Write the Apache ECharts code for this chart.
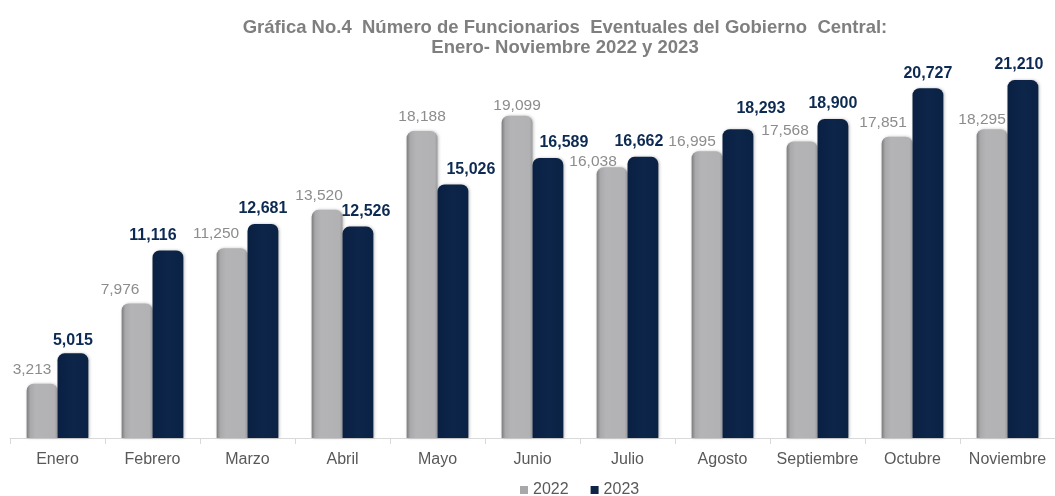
<!DOCTYPE html>
<html lang="es">
<head>
  <meta charset="UTF-8">
  <title>Gráfica No.4</title>
  <style>
    html,body{margin:0;padding:0;background:#fff;}
    #main{width:1055px;height:496px;}
  </style>
</head>
<body>
  <div id="main"></div>
  <script src="https://cdn.jsdelivr.net/npm/echarts@6/dist/echarts.min.js"></script>
  <script>
    const meses=['Enero','Febrero','Marzo','Abril','Mayo','Junio','Julio','Agosto','Septiembre','Octubre','Noviembre'];
    const datos2022=[3213,7976,11250,13520,18188,19099,16038,16995,17568,17851,18295];
    const datos2023=[5015,11116,12681,12526,15026,16589,16662,18293,18900,20727,21210];

    // ajuste de las etiquetas como en el original [dx, dy]
    const ajusteGris=[[-10,0],[-17,0],[-16,0],[-8,0],[0,0],[0,4],[-19,8],[-15,5],[-17,3],[-14,0],[-10,4]];
    const ajusteAzul=[[0,2],[-15,0],[0,0],[8,0],[18,0],[16,0],[-4,0],[23,-6],[0,0],[0,0],[-4,0]];

    const chart=echarts.init(document.querySelector('#main'));
    const fuente='"Liberation Sans", Arial, sans-serif';
    const fmt=p=>p.value.toLocaleString('en-US');

    const gris={
      type:'linear',x:0,y:0,x2:1,y2:0,
      colorStops:[
        {offset:0,color:'#7c7c7e'},
        {offset:0.12,color:'#a9a9ab'},
        {offset:0.3,color:'#b4b4b6'},
        {offset:0.9,color:'#b2b2b4'},
        {offset:1,color:'#9d9d9f'}
      ]
    };
    const azul={
      type:'linear',x:0,y:0,x2:1,y2:0,
      colorStops:[
        {offset:0,color:'#0a2043'},
        {offset:0.5,color:'#0c2549'},
        {offset:1,color:'#0a2244'}
      ]
    };

    const option={
      textStyle:{fontFamily:fuente},
      title:{
        text:'Gráfica No.4  Número de Funcionarios  Eventuales del Gobierno  Central:\nEnero- Noviembre 2022 y 2023',
        left:560,
        textAlign:'center',
        top:13,
        textStyle:{fontSize:18.5,fontWeight:'bold',color:'#7f7f7f',fontFamily:fuente,lineHeight:20}
      },
      legend:{
        top:477,
        left:515,
        itemWidth:8,
        itemHeight:8,
        itemGap:22,
        icon:'rect',
        textStyle:{fontSize:16,color:'#595959'},
        data:[
          {name:'2022',itemStyle:{color:'#a8a8aa'}},
          {name:'2023',itemStyle:{color:'#0c2549'}}
        ]
      },
      grid:{left:10,width:1048,top:33,bottom:58,containLabel:false},
      xAxis:{
        type:'category',
        data:meses,
        axisLine:{lineStyle:{color:'#d9d9d9',width:1}},
        axisTick:{show:true,length:6,interval:0,lineStyle:{color:'#d9d9d9'}},
        axisLabel:{fontSize:16,color:'#595959',margin:14,interval:0}
      },
      yAxis:{
        type:'value',
        min:0,
        max:24000,
        show:false,
        splitLine:{show:false}
      },
      series:[
        {
          name:'2022',
          type:'bar',
          barGap:'0%',
          barCategoryGap:'35%',
          data:datos2022.map((v,i)=>({value:v,label:{offset:ajusteGris[i]}})),
          itemStyle:{
            color:gris,
            borderRadius:[7,7,0,0],
            shadowColor:'rgba(0,0,0,0.25)',
            shadowBlur:3,
            shadowOffsetX:1
          },
          label:{
            show:true,
            position:'top',
            distance:6,
            fontSize:15.5,
            color:'#8c8c8c',
            formatter:fmt
          }
        },
        {
          name:'2023',
          type:'bar',
          data:datos2023.map((v,i)=>({value:v,label:{offset:ajusteAzul[i]}})),
          itemStyle:{
            color:azul,
            borderRadius:[7,7,0,0],
            shadowColor:'rgba(0,0,0,0.25)',
            shadowBlur:3,
            shadowOffsetX:1
          },
          label:{
            show:true,
            position:'top',
            distance:7,
            fontSize:16,
            fontWeight:'bold',
            color:'#0d2a52',
            formatter:fmt
          }
        }
      ]
    };
    chart.setOption(option);
  </script>
</body>
</html>
